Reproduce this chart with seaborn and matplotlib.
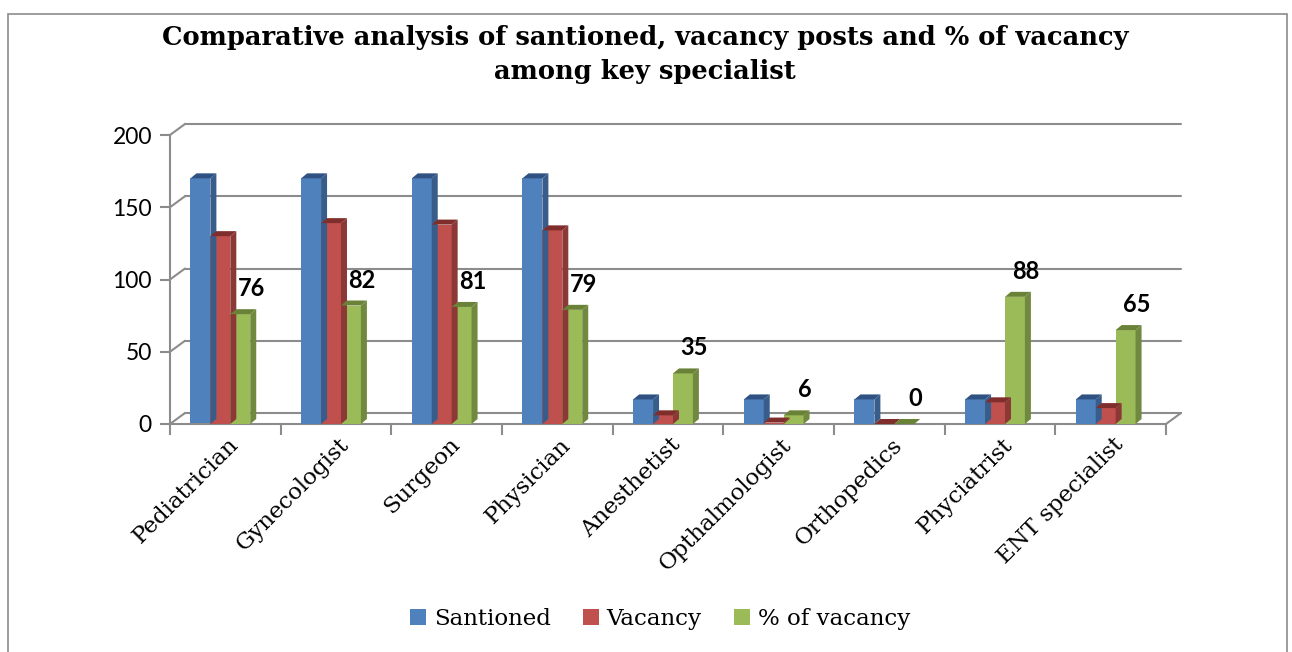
import numpy as np
import pandas as pd
import seaborn as sns
import matplotlib
matplotlib.use("Agg")
import matplotlib.pyplot as plt
import matplotlib.transforms as mtransforms
from matplotlib.patches import Polygon, Rectangle, Patch
from matplotlib.lines import Line2D

# ---------------- data ----------------
categories = ["Pediatrician", "Gynecologist", "Surgeon", "Physician", "Anesthetist",
              "Opthalmologist", "Orthopedics", "Phyciatrist", "ENT specialist"]
sanctioned = [170, 170, 170, 170, 17, 17, 17, 17, 17]
vacancy = [130, 139, 138, 134, 6, 1, 0, 15, 11]
pct_vacancy = [76, 82, 81, 79, 35, 6, 0, 88, 65]
series_names = ["Santioned", "Vacancy", "% of vacancy"]
y_ticks = [0, 50, 100, 150, 200]
title = "Comparative analysis of santioned, vacancy posts and % of vacancy\namong key specialist"

# ---------------- style ----------------
sns.set_theme(style="white")
plt.rcParams["font.family"] = ["DejaVu Serif"]
plt.rcParams["text.color"] = "black"
plt.rcParams["xtick.color"] = "black"
plt.rcParams["ytick.color"] = "black"

front_colors = ["#4F81BD", "#C0504D", "#9BBB59"]
side_colors = ["#385D8A", "#8C3836", "#71893F"]
top_colors = ["#2F5282", "#7F2E2C", "#6A8238"]
grid_col = "#8C8C8C"

df = pd.DataFrame({
    "Specialist": categories * 3,
    "Value": sanctioned + vacancy + pct_vacancy,
    "Series": np.repeat(series_names, len(categories)),
})

W, H = 1292, 652
fig = plt.figure(figsize=(W / 100, H / 100), dpi=100)
ax = fig.add_axes([170 / W, 1 - 424 / H, 996 / W, 289 / H])

sns.barplot(data=df, x="Specialist", y="Value", hue="Series", palette=front_colors,
            width=0.54, gap=0, ax=ax, legend=False, saturation=1,
            edgecolor="none", linewidth=0, errorbar=None)

ax.set_xlim(-0.5, len(categories) - 0.5)
ax.set_ylim(0, 200)
ax.set_xlabel("")
ax.set_ylabel("")
ax.grid(False)

# axes lines
for s in ["top", "right"]:
    ax.spines[s].set_visible(False)
for s in ["left", "bottom"]:
    ax.spines[s].set_color(grid_col)
    ax.spines[s].set_linewidth(1.5)

ax.set_yticks(y_ticks)
ax.set_yticklabels([str(v) for v in y_ticks], fontfamily="Lato", fontsize=16.5, color="black")
ax.tick_params(axis="y", length=7, width=1.5, color=grid_col, pad=6, left=True, labelcolor="black")
ax.set_xticks(range(len(categories)))
ax.set_xticks(np.arange(-0.5, len(categories)), minor=True)
ax.tick_params(axis="x", which="major", length=0, pad=7, labelcolor="black")
ax.tick_params(axis="x", which="minor", length=8, width=1.5, color=grid_col, bottom=True)
lab_shift = mtransforms.ScaledTranslation(2 / 100, 0, fig.dpi_scale_trans)
for lab in ax.get_xticklabels():
    lab.set_rotation(45)
    lab.set_ha("right")
    lab.set_va("top")
    lab.set_rotation_mode("anchor")
    lab.set_fontsize(16.5)
    lab.set_color("black")
    lab.set_transform(lab.get_transform() + lab_shift)

# nudge bar groups slightly left, as in the reference
for cont in ax.containers:
    for patch in cont.patches:
        patch.set_x(patch.get_x() - 0.045)

fig.canvas.draw()

# back wall gridlines (perspective offset)
DX, DY = 15, 11
back = ax.transData + mtransforms.ScaledTranslation(DX / 100, DY / 100, fig.dpi_scale_trans)
x0, x1 = ax.get_xlim()
for v in y_ticks:
    ax.plot([x0, x1], [v, v], transform=back, color=grid_col, lw=1.5, clip_on=False, zorder=0.5)
    p = ax.transData.transform((x0, v))
    fig.add_artist(Line2D([p[0], p[0] + DX], [p[1], p[1] + DY], transform=mtransforms.IdentityTransform(),
                          color=grid_col, lw=1.5, zorder=0.5))
p = ax.transData.transform((x1, 0))
fig.add_artist(Line2D([p[0], p[0] + DX], [p[1], p[1] + DY], transform=mtransforms.IdentityTransform(),
                      color=grid_col, lw=1.5, zorder=0.5))

# pseudo-3D bar faces
dx, dy = 6, 5
bars = []
for si, cont in enumerate(ax.containers):
    for patch in cont.patches:
        bars.append((patch.get_x(), si, patch))
bars.sort(key=lambda t: t[0])
ident = mtransforms.IdentityTransform()
for k, (_, si, patch) in enumerate(bars):
    z = 2 + k
    patch.set_zorder(z + 0.5)
    xl, yb = ax.transData.transform((patch.get_x(), 0))
    xr, yt = ax.transData.transform((patch.get_x() + patch.get_width(), patch.get_height()))
    side = Polygon([(xr, yb), (xr, yt), (xr + dx, yt + dy), (xr + dx, yb + dy)], closed=True,
                   transform=ident, facecolor=side_colors[si], edgecolor="none", zorder=z)
    top = Polygon([(xl, yt), (xr, yt), (xr + dx, yt + dy), (xl + dx, yt + dy)], closed=True,
                  transform=ident, facecolor=top_colors[si], edgecolor="none", zorder=z + 0.6)
    fig.add_artist(side)
    fig.add_artist(top)

# data labels on % of vacancy
for patch, val in zip(ax.containers[2].patches, pct_vacancy):
    ax.annotate(str(val), (patch.get_x() + patch.get_width() / 2, patch.get_height()),
                xytext=(11, 14), textcoords="offset pixels", ha="center", va="bottom",
                fontsize=17, fontweight="bold", fontfamily="Lato", color="black",
                zorder=100, annotation_clip=False)

# title
fig.text(645 / W, 1 - 25 / H, title, ha="center", va="top", fontsize=18.5,
         fontweight="bold", linespacing=1.45, color="black")

# legend
handles = [Patch(facecolor=c, edgecolor="none") for c in front_colors]
leg = fig.legend(handles, series_names, loc="center", bbox_to_anchor=(660 / W, 1 - 619 / H), ncol=3,
                 frameon=False, fontsize=16.5, handlelength=0.7, handleheight=0.7, handletextpad=0.35,
                 columnspacing=1.4)
for t in leg.get_texts():
    t.set_color("black")

# outer border
fig.add_artist(Rectangle((8 / W, -0.05), 1279 / W, 1.05 - 14 / H, transform=fig.transFigure,
                         fill=False, edgecolor="#8C8C8C", lw=1.2))

fig.savefig("out.png", dpi=100)
